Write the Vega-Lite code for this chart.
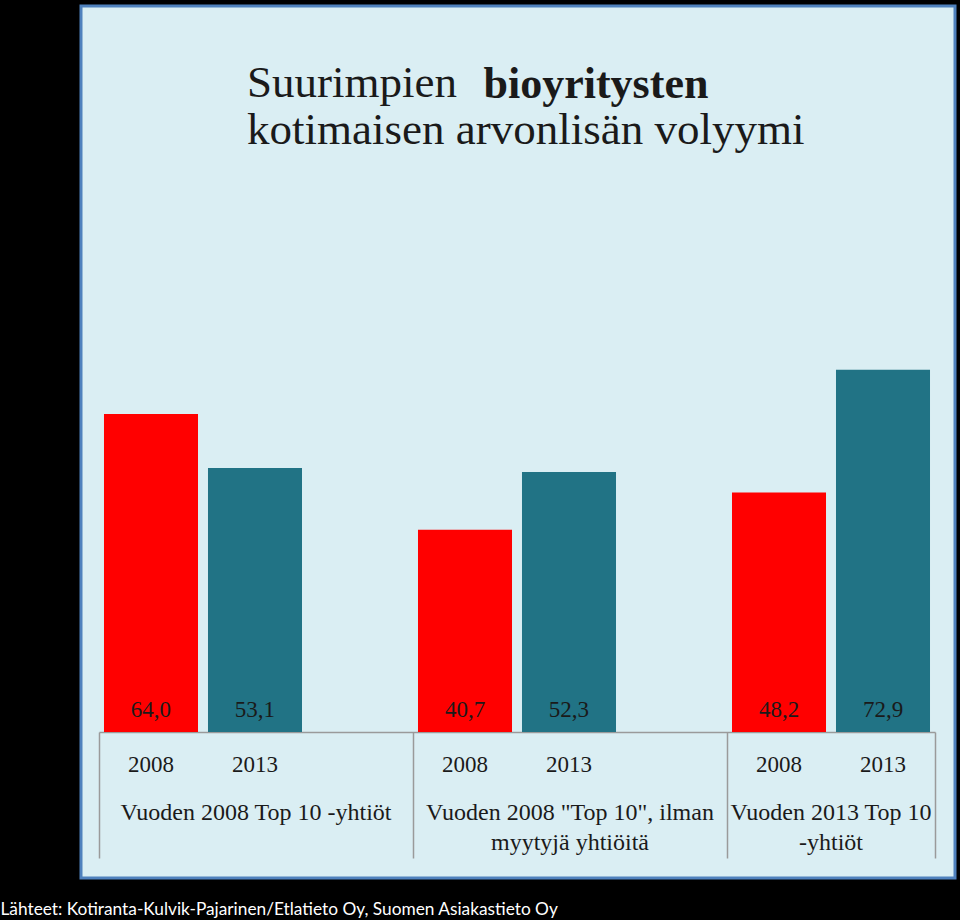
{
  "$schema": "https://vega.github.io/schema/vega-lite/v6.json",
  "width": 874,
  "height": 872,
  "autosize": {"type": "none"},
  "padding": {"left": 81, "top": 6, "right": 5, "bottom": 42},
  "background": "#000000",
  "config": {
    "view": {"fill": "#DAEEF3", "stroke": "#4F81BD", "strokeWidth": 3},
    "locale": {"number": {"decimal": ",", "thousands": " ", "grouping": [3], "currency": ["", " €"]}},
    "font": "Liberation Serif"
  },
  "title": {
    "text": "Suurimpien",
    "subtitle": "kotimaisen arvonlisän volyymi",
    "anchor": "start",
    "frame": "group",
    "orient": "top",
    "font": "Liberation Serif",
    "fontSize": 45,
    "fontWeight": "normal",
    "color": "#1a1a1a",
    "subtitleFont": "Liberation Serif",
    "subtitleFontSize": 45,
    "subtitleColor": "#1a1a1a",
    "subtitlePadding": 2,
    "offset": -147,
    "dx": 166
  },
  "data": {
    "values": [
      {"group": "Vuoden 2008 Top 10 -yhtiöt", "year": "2008", "value": 64.0},
      {"group": "Vuoden 2008 Top 10 -yhtiöt", "year": "2013", "value": 53.1},
      {"group": "Vuoden 2008 \"Top 10\", ilman myytyjä yhtiöitä", "year": "2008", "value": 40.7},
      {"group": "Vuoden 2008 \"Top 10\", ilman myytyjä yhtiöitä", "year": "2013", "value": 52.3},
      {"group": "Vuoden 2013 Top 10 -yhtiöt", "year": "2008", "value": 48.2},
      {"group": "Vuoden 2013 Top 10 -yhtiöt", "year": "2013", "value": 72.9}
    ]
  },
  "layer": [
    {
      "mark": {"type": "bar"},
      "encoding": {
        "x": {
          "field": "group", "type": "nominal", "sort": null,
          "scale": {"range": [18, 854], "paddingInner": 0.3376, "paddingOuter": 0},
          "axis": {
            "orient": "bottom", "offset": -146,
            "domain": true, "domainColor": "#9A9A9A", "domainWidth": 1.5,
            "ticks": true, "tickColor": "#9A9A9A", "tickWidth": 1.5, "tickSize": 126,
            "bandPosition": 0,
            "labelAngle": 0, "labelFont": "Liberation Serif", "labelFontSize": 24, "labelColor": "#1a1a1a",
            "labelLimit": 0, "labelOverlap": false, "labelBound": false, "labelFlush": false,
            "labelPadding": -58, "labelBaseline": "top", "labelLineHeight": 30,
            "labelOffset": {"condition": {"test": "datum.value === 'Vuoden 2013 Top 10 -yhtiöt'", "value": 0}, "value": 53},
            "labelExpr": "datum.label === 'Vuoden 2013 Top 10 -yhtiöt' ? ['Vuoden 2013 Top 10', '-yhtiöt'] : (datum.label === 'Vuoden 2008 \"Top 10\", ilman myytyjä yhtiöitä' ? ['Vuoden 2008 \"Top 10\", ilman', 'myytyjä yhtiöitä'] : datum.label)",
            "title": "Lähteet: Kotiranta-Kulvik-Pajarinen/Etlatieto Oy, Suomen Asiakastieto Oy",
            "titleFont": "Lato", "titleFontSize": 17.3, "titleFontWeight": "normal", "titleColor": "#FFFFFF",
            "titleX": -81, "titleY": 182, "titleAlign": "left", "titleAnchor": "start", "titleBaseline": "alphabetic", "titleAngle": 0,
            "grid": false
          }
        },
        "xOffset": {"field": "year", "type": "nominal", "scale": {"paddingInner": 0.096, "paddingOuter": 0.048}},
        "y": {
          "field": "value", "type": "quantitative",
          "scale": {"domain": [-29.38, 146.08], "nice": false, "zero": false},
          "axis": {
            "orient": "left", "domain": false, "ticks": false, "labels": false, "grid": false,
            "title": "bioyritysten", "titleAngle": 0, "titleAlign": "left", "titleBaseline": "alphabetic",
            "titleX": 402, "titleY": 91, "titleFont": "Liberation Serif", "titleFontSize": 44,
            "titleFontWeight": "bold", "titleColor": "#1a1a1a"
          }
        },
        "y2": {"datum": 0},
        "color": {"field": "year", "type": "nominal", "scale": {"domain": ["2008", "2013"], "range": ["#FF0000", "#217385"]}, "legend": null}
      }
    },
    {
      "mark": {"type": "text", "dy": -22, "font": "Liberation Serif", "fontSize": 23, "color": "#1a1a1a", "baseline": "middle", "align": "center"},
      "encoding": {
        "x": {
          "field": "group", "type": "nominal", "sort": null,
          "axis": {
            "orient": "bottom", "offset": -146, "values": ["Vuoden 2013 Top 10 -yhtiöt"], "bandPosition": 1,
            "domain": false, "labels": false, "ticks": true, "tickSize": 126, "tickColor": "#9A9A9A", "tickWidth": 1.5,
            "grid": false, "title": null
          }
        },
        "xOffset": {"field": "year", "type": "nominal"},
        "y": {"datum": 0, "type": "quantitative"},
        "text": {"field": "value", "type": "quantitative", "format": ".1f"}
      }
    },
    {
      "mark": {"type": "text", "dy": 33, "font": "Liberation Serif", "fontSize": 23, "color": "#1a1a1a", "baseline": "middle", "align": "center"},
      "encoding": {
        "x": {"field": "group", "type": "nominal", "sort": null, "axis": null},
        "xOffset": {"field": "year", "type": "nominal"},
        "y": {"datum": 0, "type": "quantitative"},
        "text": {"field": "year", "type": "nominal"}
      }
    }
  ],
  "resolve": {"axis": {"x": "independent"}}
}
